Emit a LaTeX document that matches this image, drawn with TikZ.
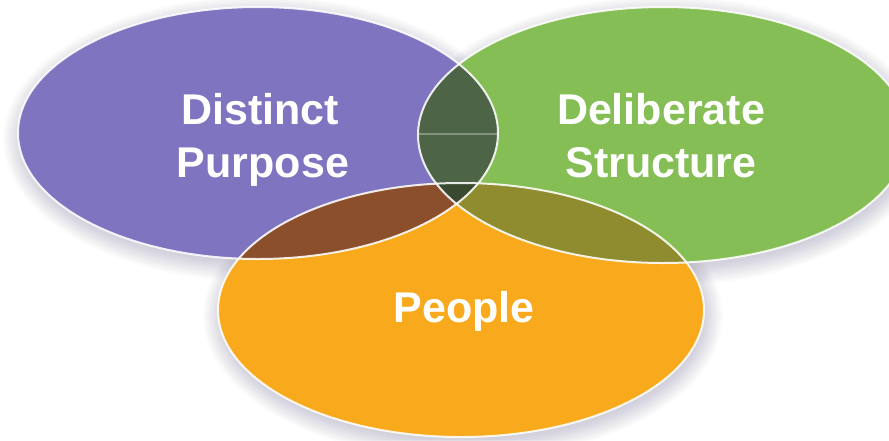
\documentclass[tikz,border=0pt]{standalone}
\usepackage{fontspec}
\setmainfont{Liberation Sans}
\definecolor{cPurple}{HTML}{7F74C0}
\definecolor{cGreen}{HTML}{86BE56}
\definecolor{cOrange}{HTML}{F8A91C}
\definecolor{cPG}{HTML}{4D6446}
\definecolor{cPO}{HTML}{8B4F2B}
\definecolor{cGO}{HTML}{8E8C2E}
\definecolor{cPGO}{HTML}{3A4A30}
\definecolor{cShade}{HTML}{5E5A78}
\tikzset{
  vennlabel/.style={text=white, font=\fontsize{43}{52}\selectfont\bfseries, anchor=base, inner sep=0pt},
  vennrim/.style={draw=white, draw opacity=0.88, line width=2pt},
  vennshade/.style={fill=cShade, opacity=0.016}
}
\newcommand{\purplePath}{(258,133) ellipse [x radius=240, y radius=126]}
\newcommand{\greenPath}{(663,135) ellipse [x radius=245, y radius=128]}
\newcommand{\orangePath}{(461,310) ellipse [x radius=243, y radius=127]}
% soft shadow: center x, center y, rx, ry
\newcommand{\vennShade}[4]{%
  \foreach \k in {1,...,16} {%
    \fill[vennshade] (#1+2,#2+6) ellipse [x radius={#3-4+\k*1.3}, y radius={#4-4+\k*1.3}];
  }%
}
\begin{document}
\begin{tikzpicture}[x=1pt,y=-1pt]
\useasboundingbox (0,0) rectangle (889,440);
\fill[white] (0,0) rectangle (889,440);
% shadows
\vennShade{258}{133}{240}{126}
\vennShade{663}{135}{245}{128}
\vennShade{461}{310}{243}{127}
% base fills
\fill[cPurple] \purplePath;
\fill[cGreen] \greenPath;
\fill[cOrange] \orangePath;
% overlaps
\begin{scope}
  \clip \purplePath;
  \fill[cPG] \greenPath;
  \fill[cPO] \orangePath;
\end{scope}
\begin{scope}
  \clip \greenPath;
  \fill[cGO] \orangePath;
\end{scope}
\begin{scope}
  \clip \purplePath;
  \clip \greenPath;
  \fill[cPGO] \orangePath;
  \draw[white, opacity=0.3, line width=1.2pt] (400,134) -- (520,134);
\end{scope}
% rims
\draw[vennrim] \purplePath;
\draw[vennrim] \greenPath;
\draw[vennrim] \orangePath;
% labels
\node[vennlabel] (dist) at (260,124) {Distinct};
\node[vennlabel] (purp) at (263,177) {Purpose};
\node[vennlabel] (deli) at (661,124) {Deliberate};
\node[vennlabel] (stru) at (661,177) {Structure};
\node[vennlabel] (peop) at (464,322) {People};
\end{tikzpicture}
\end{document}
